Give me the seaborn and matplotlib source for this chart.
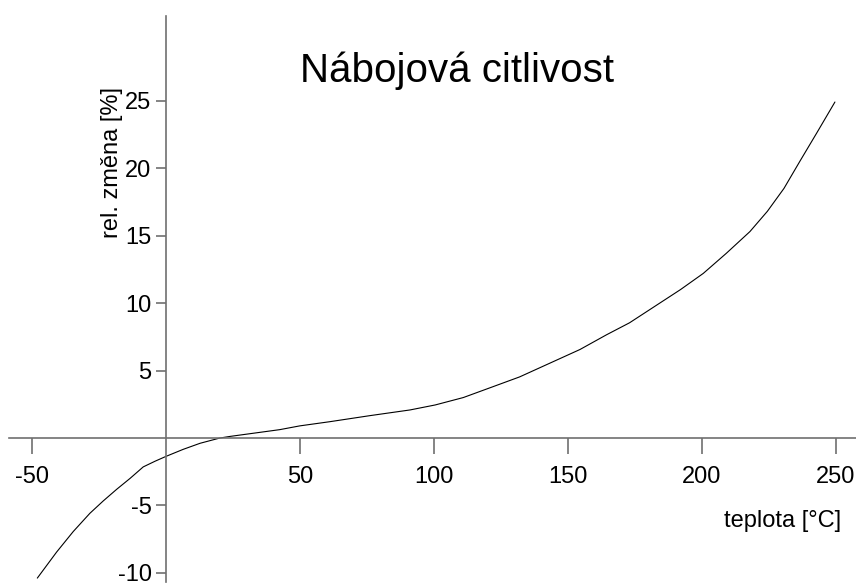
"""Charge sensitivity vs temperature, drawn with seaborn on crossed axes."""
import matplotlib
matplotlib.use("Agg")
import matplotlib.pyplot as plt
import pandas as pd
import seaborn as sns

# Curve.
teplota = [-47.9, -40.7, -34.5, -28.3, -23.3, -18.3, -13.3, -8.4, -4.0, 0.1,
           6.5, 12.8, 20.2, 24.0, 42.5, 50.0, 61.2, 76.2, 91.1, 100.5, 111.0,
           122.0, 132.0, 154.5, 164.4, 173.0, 192.0, 200.5, 209.1, 217.9,
           224.4, 230.6, 236.5, 242.8, 249.6]
zmena = [-10.38, -8.45, -6.93, -5.58, -4.66, -3.8, -2.99, -2.14, -1.72, -1.36,
         -0.84, -0.39, 0.0, 0.12, 0.62, 0.9, 1.21, 1.66, 2.08, 2.45, 3.0,
         3.8, 4.53, 6.56, 7.65, 8.54, 11.0, 12.2, 13.69, 15.3,
         16.8, 18.5, 20.5, 22.6, 24.9]

x_ticks = [-50, 50, 100, 150, 200, 250]
y_ticks = [-10, -5, 5, 10, 15, 20, 25]

sns.set_style("white")
plt.rcParams["font.family"] = ["Liberation Sans", "DejaVu Sans"]
plt.rcParams["axes.unicode_minus"] = False
plt.rcParams["text.color"] = "black"
plt.rcParams["axes.labelcolor"] = "black"

df = pd.DataFrame({"teplota": teplota, "zmena": zmena})

W, H = 856, 587
fig = plt.figure(figsize=(W / 100, H / 100), dpi=100)
ax = fig.add_axes([0, 0, 1, 1])

sns.lineplot(data=df, x="teplota", y="zmena", ax=ax, color="black",
             linewidth=0.8, sort=False)

ax.set_xlim(-61.82, 257.46)
ax.set_ylim(-11.04, 32.46)

axis_grey = "#707070"
for side in ("top", "right"):
    ax.spines[side].set_visible(False)
ax.spines["bottom"].set_position(("data", 0))
ax.spines["left"].set_position(("data", 0))
ax.spines["bottom"].set_bounds(-58.47, 257.46)
ax.spines["left"].set_bounds(-10.67, 31.28)
for side in ("bottom", "left"):
    ax.spines[side].set_color(axis_grey)
    ax.spines[side].set_linewidth(1.2)

ax.set_xticks(x_ticks)
ax.set_yticks(y_ticks)
ax.tick_params(axis="x", bottom=True, direction="out", length=11.5, width=1.2,
               color=axis_grey, pad=9, labelsize=17, labelcolor="black")
ax.tick_params(axis="y", left=True, direction="out", length=7.2, width=1.2,
               color=axis_grey, pad=3, labelsize=17, labelcolor="black")

ax.set_xlabel("teplota [°C]", fontsize=17, ha="right", va="center")
ax.xaxis.set_label_coords(840.7 / W, 1 - 521 / H)
ax.set_ylabel("rel. změna [%]", fontsize=17)
ax.yaxis.set_label_coords(123 / W, 1 - 162 / H)

ax.set_title("Nábojová citlivost", fontsize=29, x=457.5 / W, y=1 - 90 / H)

fig.savefig("out.png", dpi=100, facecolor="white")
plt.close(fig)
